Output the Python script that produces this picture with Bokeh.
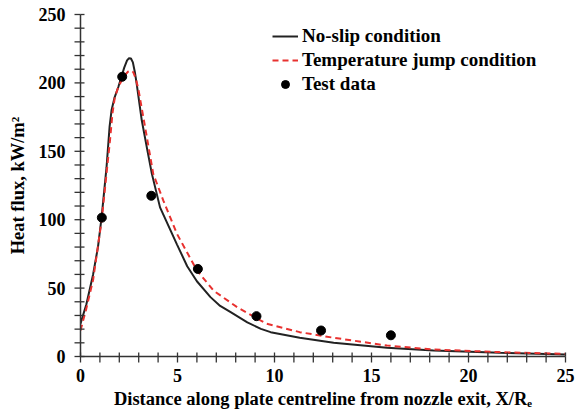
import math
from bokeh.plotting import figure
from bokeh.models import Legend, LegendItem, Range1d, FixedTicker
from bokeh.embed import file_html
from bokeh.resources import INLINE

# No-slip condition (black solid)
ns_x = [0.0, 0.3, 0.65, 0.9, 1.09, 1.34, 1.5, 1.6, 1.75, 1.95, 2.1, 2.25, 2.4, 2.5, 2.6, 2.7, 2.8, 2.9,
        3.16, 3.45, 3.68, 4.1, 4.97, 5.5, 6.0, 6.7, 7.2, 7.74, 8.6, 9.3, 9.8, 11.3, 13.05, 15.8, 18.2, 21.6, 25.0]
ns_y = [24.0, 38.0, 60.0, 80.0, 102.0, 138.0, 168.0, 180.0, 189.0, 197.0, 204.0, 211.0, 216.5, 218.0, 217.8, 215.0, 208.0, 199.0,
        172.5, 150.5, 133.5, 109.0, 82.0, 66.0, 55.0, 43.4, 37.0, 32.4, 25.0, 20.2, 17.8, 13.7, 10.0, 6.4, 4.4, 2.7, 1.5]

# Temperature jump condition (red dashed)
tj_x = [0.0, 0.3, 0.65, 1.09, 1.52, 1.65, 1.77, 1.95, 2.12, 2.3, 2.46, 2.6, 2.72, 2.85, 2.98, 3.33, 3.75, 4.27, 4.97,
        6.0, 6.87, 8.08, 9.3, 9.6, 11.3, 13.05, 15.8, 18.2, 21.6, 25.0]
tj_y = [19.0, 35.0, 56.0, 99.5, 158.0, 178.0, 189.5, 197.0, 201.8, 206.0, 208.3, 209.0, 207.8, 203.0, 195.7, 167.6, 133.5, 114.0, 89.7,
        63.0, 48.0, 36.0, 26.3, 24.0, 17.8, 13.7, 8.0, 5.1, 3.2, 2.0]

# Test data
test_x = [1.1, 2.15, 3.65, 6.05, 9.07, 12.4, 16.0]
test_y = [101.5, 204.5, 117.5, 64.0, 29.5, 19.0, 15.5]

x_ticks = [0, 5, 10, 15, 20, 25]
x_minor_ticks = list(range(0, 26))
y_ticks = [0, 50, 100, 150, 200, 250]
y_minor_ticks = list(range(0, 251, 10))

FONT = "Liberation Serif"
AXIS_COLOR = "#333333"

p = figure(width=582, height=416, output_backend="svg", toolbar_location=None,
           x_range=Range1d(0, 25), y_range=Range1d(0, 250),
           min_border_left=80, min_border_right=17, min_border_top=14, min_border_bottom=60)
p.outline_line_color = None
p.xgrid.visible = False
p.ygrid.visible = False

r_ns = p.line(ns_x, ns_y, line_color="#222222", line_width=2)
r_tj = p.line(tj_x, tj_y, line_color="#e8312f", line_width=2, line_dash="6 4")
r_td = p.scatter(test_x, test_y, size=9, fill_color="black", line_color="black")

# tick marks drawn as short screen-length rays from the axis lines
x_base = [y_ticks[0]] * len(x_minor_ticks)
y_base = [x_ticks[0]] * len(y_minor_ticks)
for ang_x, ang_y, ln in ((-math.pi / 2, math.pi, 6), (math.pi / 2, 0.0, 4)):
    p.ray(x=x_minor_ticks, y=x_base, length=ln, length_units="screen",
          angle=ang_x, line_color=AXIS_COLOR, line_width=1.3, level="overlay")
    p.ray(x=y_base, y=y_minor_ticks, length=ln, length_units="screen",
          angle=ang_y, line_color=AXIS_COLOR, line_width=1.3, level="overlay")

for ax, tk, mt in ((p.xaxis[0], x_ticks, x_minor_ticks), (p.yaxis[0], y_ticks, y_minor_ticks)):
    ax.ticker = FixedTicker(ticks=tk, minor_ticks=mt)
    ax.major_label_text_font = FONT
    ax.major_label_text_font_style = "bold"
    ax.major_label_text_font_size = "18px"
    ax.major_label_text_color = "black"
    ax.axis_label_text_font = FONT
    ax.axis_label_text_font_style = "bold"
    ax.axis_label_text_font_size = "18.5px"
    ax.axis_label_text_color = "black"
    ax.axis_line_color = AXIS_COLOR
    ax.axis_line_width = 1.5
    ax.major_tick_line_color = None
    ax.minor_tick_line_color = None
    ax.major_tick_in = 0
    ax.major_tick_out = 7
    ax.minor_tick_in = 0
    ax.minor_tick_out = 6

p.xaxis[0].axis_label = "Distance along plate centreline from nozzle exit, X/R\u2091"
p.yaxis[0].axis_label = "Heat flux, kW/m\u00b2"
p.xaxis[0].major_label_standoff = 5
p.yaxis[0].major_label_standoff = 8
p.xaxis[0].axis_label_standoff = 4
p.yaxis[0].axis_label_standoff = 8

legend = Legend(items=[
    LegendItem(label="No-slip condition", renderers=[r_ns]),
    LegendItem(label="Temperature jump condition", renderers=[r_tj]),
    LegendItem(label="Test data", renderers=[r_td]),
], location=(192, 261))
legend.border_line_color = None
legend.background_fill_alpha = 0
legend.padding = 0
legend.margin = 0
legend.spacing = 1
legend.label_height = 23
legend.glyph_height = 20
legend.glyph_width = 26
legend.label_standoff = 4
legend.label_text_font = FONT
legend.label_text_font_style = "bold"
legend.label_text_font_size = "19px"
legend.label_text_color = "black"
p.add_layout(legend)

open("out.html", "w").write(file_html(p, INLINE))
